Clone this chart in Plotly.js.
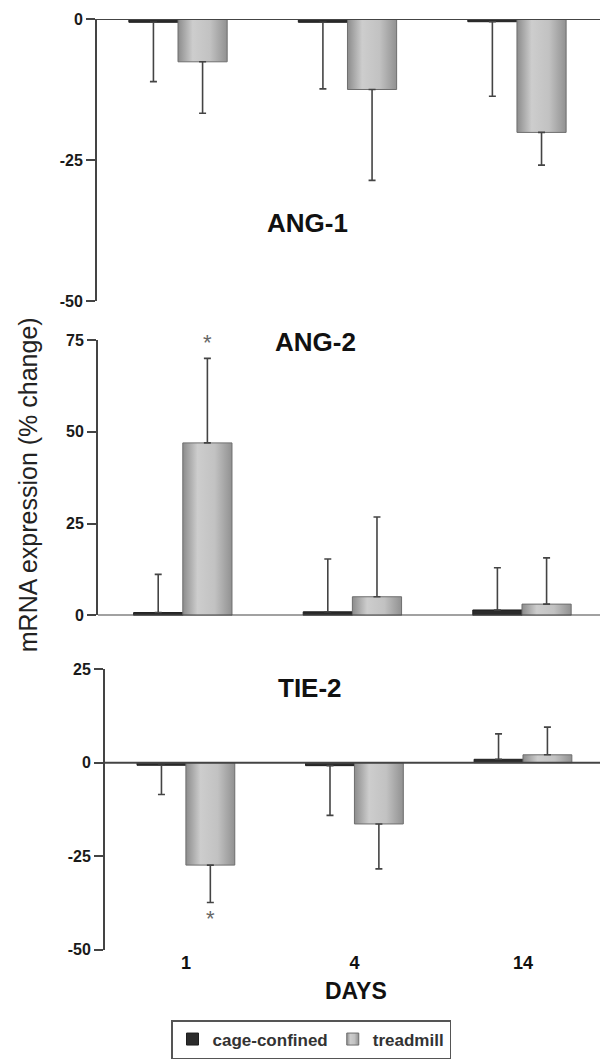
<!DOCTYPE html>
<html>
<head>
<meta charset="utf-8">
<script src="https://cdn.plot.ly/plotly-3.0.1.min.js"></script>
<style>html,body{margin:0;padding:0;background:#fff;}</style>
</head>
<body>
<div id="chart" style="width:600px;height:1059px;"></div>
<script>
// ---- data ----
const days = ["1", "4", "14"];
const seriesNames = ["cage-confined", "treadmill"];
const panelTitles = ["ANG-1", "ANG-2", "TIE-2"];

const ang1Cage = [-0.6, -0.6, -0.5];
const ang1CageErr = [10.5, 11.8, 13.2];
const ang1Tread = [-7.6, -12.5, -20.1];
const ang1TreadErr = [9.1, 16.1, 5.8];

const ang2Cage = [0.8, 1.0, 1.5];
const ang2CageErr = [10.4, 14.4, 11.5];
const ang2Tread = [47.0, 5.1, 3.1];
const ang2TreadErr = [23.0, 21.7, 12.6];

const tie2Cage = [-0.7, -0.8, 0.9];
const tie2CageErr = [7.8, 13.3, 6.8];
const tie2Tread = [-27.4, -16.4, 2.1];
const tie2TreadErr = [10.0, 12.0, 7.4];

const ang1Ticks = [-50, -25, 0];
const ang2Ticks = [0, 25, 50, 75];
const tie2Ticks = [-50, -25, 0, 25];

// significance markers
const starDay = [0, 0];
const starY = [74.3, -41.7];
const starPanel = [2, 3];

// ---- styling ----
const FONT = "Liberation Sans, Arial, Helvetica, sans-serif";
const AXC = "#444";
const CAGE = "#2b2b2b";
const TREAD = "rgb(184, 184, 184)";
const xIdx = days.map((d, i) => i);

function errObj(vals, errs) {
  return {
    type: "data", symmetric: false,
    array: vals.map((v, i) => v >= 0 ? errs[i] : 0),
    arrayminus: vals.map((v, i) => v < 0 ? errs[i] : 0),
    color: AXC, thickness: 1.6, width: 3.5
  };
}

function pair(cage, cageErr, tread, treadErr, n, legend) {
  const xa = n === 1 ? "x" : "x" + n, ya = n === 1 ? "y" : "y" + n;
  return [
    {type: "bar", name: seriesNames[0], x: xIdx, y: cage, xaxis: xa, yaxis: ya,
     marker: {color: CAGE, line: {color: "#1e1e1e", width: 1}},
     error_y: errObj(cage, cageErr), showlegend: legend, legendgroup: "c"},
    {type: "bar", name: seriesNames[1], x: xIdx, y: tread, xaxis: xa, yaxis: ya,
     marker: {color: TREAD, line: {color: "#6e6e6e", width: 1}},
     error_y: errObj(tread, treadErr), showlegend: legend, legendgroup: "t"}
  ];
}

const data = [].concat(
  pair(ang1Cage, ang1CageErr, ang1Tread, ang1TreadErr, 1, true),
  pair(ang2Cage, ang2CageErr, ang2Tread, ang2TreadErr, 2, false),
  pair(tie2Cage, tie2CageErr, tie2Tread, tie2TreadErr, 3, false)
);

function yax(range, ticks, domain, anchor) {
  return {
    range: range, domain: domain, anchor: anchor,
    tickvals: ticks, ticktext: ticks.map(String),
    showline: true, linecolor: AXC, linewidth: 2,
    ticks: "outside", ticklen: 9, tickwidth: 2, tickcolor: AXC,
    showgrid: false, zeroline: false, fixedrange: true,
    tickfont: {family: FONT, size: 16, color: "#1a1a1a", weight: 700}
  };
}
function xax(range, domain, anchor, labels) {
  return {
    range: range, domain: domain, anchor: anchor,
    tickvals: xIdx, ticktext: days, showticklabels: labels,
    showline: false, showgrid: false, zeroline: false, ticks: "", fixedrange: true,
    tickfont: {family: FONT, size: 18, color: "#111", weight: 700}
  };
}

const xd1 = [97 / 600, 1], xd2 = [98 / 600, 1], xd3 = [105 / 600, 1];
const H = 1059;
const yd = (top, bottom) => [(H - bottom) / H, (H - top) / H];

const shapes = [[xd1, "y"], [xd2, "y2"], [xd3, "y3"]].map(([d, yr]) => ({
  type: "line", xref: "paper", yref: yr, x0: d[0], x1: 1, y0: 0, y1: 0,
  line: {color: AXC, width: 2}
}));

const titlePos = [[307.5, 224], [315.5, 344], [309.5, 692]];
const annotations = panelTitles.map((t, i) => ({
  text: t, xref: "paper", yref: "paper",
  x: titlePos[i][0] / 600, y: (H - titlePos[i][1]) / H,
  xanchor: "center", yanchor: "middle", showarrow: false,
  font: {family: FONT, size: 26, color: "#111", weight: 700}
}));
annotations.push({
  text: "mRNA expression (% change)", xref: "paper", yref: "paper",
  x: 28 / 600, y: (H - 488) / H, textangle: -90,
  xanchor: "center", yanchor: "middle", showarrow: false,
  font: {family: FONT, size: 25, color: "#222"}
});
annotations.push({
  text: "DAYS", xref: "paper", yref: "paper",
  x: 356 / 600, y: (H - 982) / H, xanchor: "center", yanchor: "top", showarrow: false,
  font: {family: FONT, size: 23, color: "#111", weight: 700}
});
starY.forEach((yv, i) => {
  const p = starPanel[i];
  annotations.push({
    text: "*", xref: "x" + p, yref: "y" + p, x: starDay[i] + 0.145, y: yv,
    xanchor: "center", yanchor: "middle", showarrow: false,
    font: {family: FONT, size: 22, color: "#666"}
  });
});

const layout = {
  width: 600, height: 1059,
  margin: {l: 0, r: 0, t: 0, b: 0},
  paper_bgcolor: "#fff", plot_bgcolor: "#fff",
  barmode: "group", bargap: 0.42, bargroupgap: 0,
  xaxis: xax([-0.478, 2.49], xd1, "y", false),
  yaxis: yax([-50, 0], ang1Ticks, yd(19, 303), "x"),
  xaxis2: xax([-0.50, 2.46], xd2, "y2", false),
  yaxis2: yax([0, 75], ang2Ticks, yd(342, 619), "x2"),
  xaxis3: xax([-0.48, 2.457], xd3, "y3", true),
  yaxis3: yax([-50, 25], tie2Ticks, yd(673, 955), "x3"),
  shapes: shapes,
  annotations: annotations,
  showlegend: true,
  legend: {
    orientation: "h", x: 311 / 600, xanchor: "center", y: (H - 1026) / H, yanchor: "top",
    bordercolor: "#555", borderwidth: 1.5, bgcolor: "#fff",
    font: {family: FONT, size: 17, color: "#333", weight: 700},
    traceorder: "normal"
  }
};

Plotly.newPlot("chart", data, layout, {displayModeBar: false, staticPlot: true}).then(() => {
  const svg = document.querySelector("#chart .main-svg");
  const NS = "http://www.w3.org/2000/svg";
  let defs = svg.querySelector("defs");
  if (!defs) { defs = document.createElementNS(NS, "defs"); svg.insertBefore(defs, svg.firstChild); }
  const g = document.createElementNS(NS, "linearGradient");
  g.setAttribute("id", "treadGrad");
  g.setAttribute("x1", "0"); g.setAttribute("x2", "1"); g.setAttribute("y1", "0"); g.setAttribute("y2", "0");
  [[0, "#8c8c8c"], [0.3, "#cdcdcd"], [0.65, "#c2c2c2"], [1, "#919191"]].forEach(([o, c]) => {
    const s = document.createElementNS(NS, "stop");
    s.setAttribute("offset", o); s.setAttribute("stop-color", c);
    g.appendChild(s);
  });
  defs.appendChild(g);
  document.querySelectorAll("#chart path").forEach(p => {
    if (p.style.fill === TREAD) p.style.fill = "url(#treadGrad)";
  });
});
</script>
</body>
</html>
